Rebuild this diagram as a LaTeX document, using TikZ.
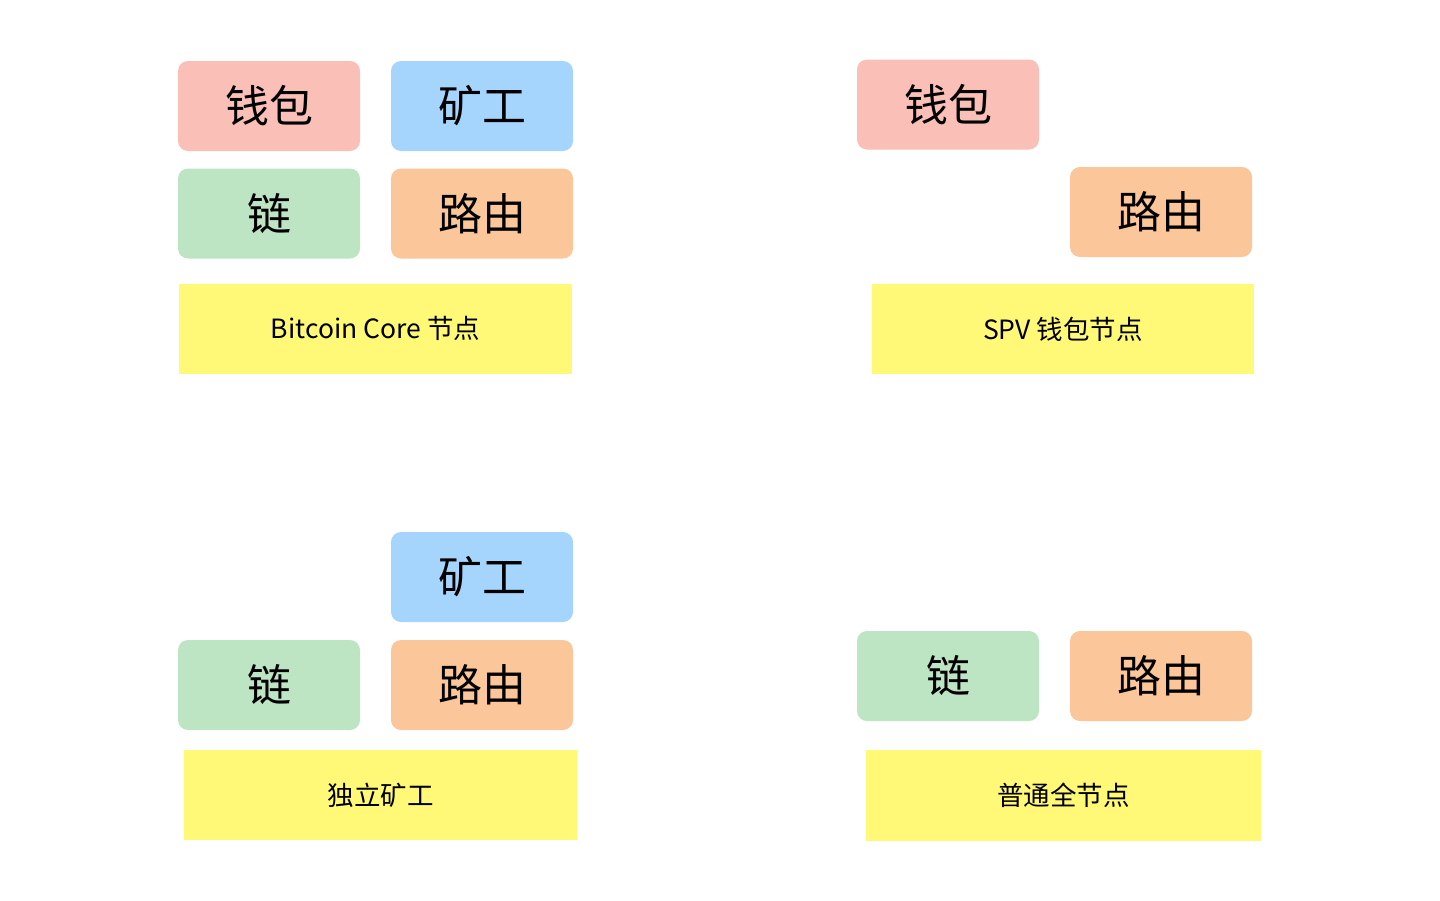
\documentclass[tikz,border=0pt]{standalone}
\usepackage{fontspec}
\setmainfont{Noto Sans CJK SC}
\usepackage{xcolor}
\usepackage{tikz}
\usetikzlibrary{positioning}

\definecolor{walletc}{HTML}{FABFB6}
\definecolor{minerc}{HTML}{A5D5FD}
\definecolor{chainc}{HTML}{BDE5C3}
\definecolor{routerc}{HTML}{FAC69A}
\definecolor{basec}{HTML}{FFF977}

\begin{document}
\begin{tikzpicture}
      [ x=1pt, y=-1pt,
        module/.style={rounded corners=10pt, minimum width=182pt, minimum height=90pt,
                       inner sep=0pt, font=\fontsize{44}{48}\selectfont},
        wallet/.style={module, fill=walletc},
        miner/.style={module, fill=minerc},
        chain/.style={module, fill=chainc},
        router/.style={module, fill=routerc},
        base/.style={fill=basec, minimum height=90pt, inner sep=0pt,
                     font=\fontsize{26.5}{30}\selectfont}
      ]
      \useasboundingbox (0,0) rectangle (1440,900);

      % Bitcoin Core
      \node[wallet]  (w_1) at (269,106)   {钱包};
      \node[miner]   (m_1) at (482,106)   {矿工};
      \node[chain]   (c_1) at (269,213.5) {链};
      \node[router]  (r_1) at (482,213.5) {路由};
      \node[base, minimum width=393pt] (n_1) at (375.5,328.5) {Bitcoin Core 节点};

      % SPV
      \node[wallet]  (w_2) at (948,104.5) {钱包};
      \node[router]  (r_2) at (1161,212)  {路由};
      \node[base, minimum width=382pt] (n_2) at (1063,329) {SPV 钱包节点};

      % solo miner
      \node[miner]   (m_3) at (482,577)   {矿工};
      \node[chain]   (c_3) at (269,685)   {链};
      \node[router]  (r_3) at (482,685)   {路由};
      \node[base, minimum width=393pt] (n_3) at (380.5,795) {独立矿工};

      % full node
      \node[chain]   (c_4) at (948,676)   {链};
      \node[router]  (r_4) at (1161,676)  {路由};
      \node[base, minimum width=395pt, minimum height=91pt] (n_4) at (1063.5,795.5) {普通全节点};
    \end{tikzpicture}
\end{document}
